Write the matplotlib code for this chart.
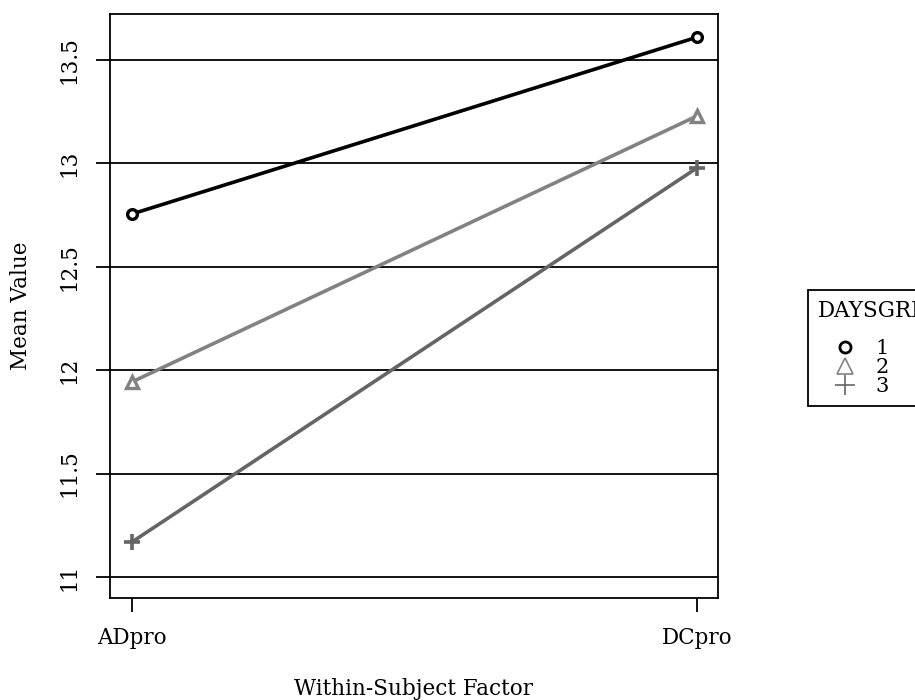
import matplotlib
matplotlib.use("Agg")
import matplotlib.pyplot as plt
from matplotlib.lines import Line2D

categories = ["ADpro", "DCpro"]
groups = ["1", "2", "3"]
series1 = [12.755, 13.61]
series2 = [11.943, 13.229]
series3 = [11.169, 12.978]
yticks = [11, 11.5, 12, 12.5, 13, 13.5]
ytick_labels = ["11", "11.5", "12", "12.5", "13", "13.5"]

FS = 15.5
plt.rcParams['font.family'] = ['DejaVu Serif']
fig = plt.figure(figsize=(9.15, 7), dpi=100)
ax = fig.add_axes([0.1202, 0.1457, 0.6645, 0.8343])

for y in yticks:
    ax.axhline(y, color='black', linewidth=1.3, zorder=1)

x = list(range(len(categories)))
styles = [
    (series1, 'black', 'o', dict(markerfacecolor='white', markeredgecolor='black', markersize=7, markeredgewidth=2.4)),
    (series2, '#828282', '^', dict(markerfacecolor='white', markeredgecolor='#828282', markersize=8, markeredgewidth=2.4)),
    (series3, '#656565', '+', dict(markeredgecolor='#656565', markersize=12, markeredgewidth=2.6)),
]
for vals, col, mk, kw in styles:
    ax.plot(x, vals, color=col, linewidth=2.6, zorder=2)
    ax.plot(x, vals, linestyle='none', marker=mk, zorder=3, **kw)

ax.set_xlim(-0.039, 1.037)
ax.set_ylim(10.898, 13.722)
ax.set_xticks(x)
ax.set_xticklabels(categories, fontsize=FS)
ax.set_yticks(yticks)
ax.set_yticklabels(ytick_labels, fontsize=FS, rotation=90, va='center')
ax.tick_params(axis='both', direction='out', length=10, width=1.3)
ax.tick_params(axis='x', pad=11)
ax.tick_params(axis='y', pad=11)
for s in ax.spines.values():
    s.set_linewidth(1.3)
ax.set_ylabel("Mean Value", fontsize=FS, labelpad=19)
ax.set_xlabel("Within-Subject Factor", fontsize=FS, labelpad=21)

handles = [
    Line2D([], [], linestyle='none', marker='o', markerfacecolor='white', markeredgecolor='black', markersize=8, markeredgewidth=2.0),
    Line2D([], [], linestyle='none', marker='^', markerfacecolor='white', markeredgecolor='#828282', markersize=11, markeredgewidth=1.2),
    Line2D([], [], linestyle='none', marker='+', markeredgecolor='#656565', markersize=15, markeredgewidth=1.2),
]
leg = fig.legend(handles, groups, title="DAYSGRP", loc='upper left',
                 bbox_to_anchor=(0.883, 0.586), fontsize=15, title_fontsize=FS,
                 frameon=True, fancybox=False, edgecolor='black', framealpha=1,
                 handlelength=2.6, handletextpad=0.15, labelspacing=0.0,
                 borderpad=0.5, borderaxespad=0, alignment='left')
leg.get_frame().set_linewidth(1.3)
try:
    leg._legend_box.sep = 12
except Exception:
    pass

fig.savefig("out.png", dpi=100)
